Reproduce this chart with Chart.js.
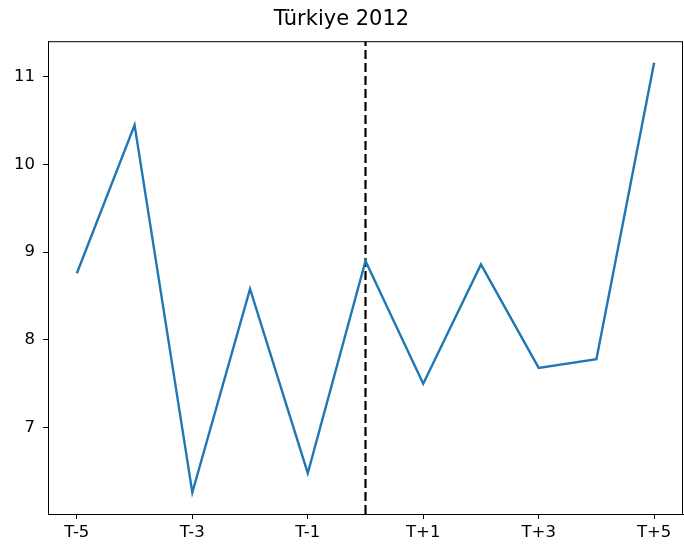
<!DOCTYPE html>
<html lang="en">
<head>
    <meta charset="UTF-8">
    <title>Türkiye 2012</title>
    <script src="https://cdn.jsdelivr.net/npm/chart.js"></script>
    <style>
        html, body { margin: 0; padding: 0; background: #fff; }
        #wrap { width: 684px; height: 544px; }
    </style>
</head>
<body>
    <div id="wrap"><canvas id="myChart" width="684" height="544"></canvas></div>
    <script>
        // data
        var periods = ['T-5', 'T-4', 'T-3', 'T-2', 'T-1', 'T0', 'T+1', 'T+2', 'T+3', 'T+4', 'T+5'];
        var values = [8.76, 10.45, 6.26, 8.58, 6.48, 8.90, 7.50, 8.86, 7.68, 7.78, 11.16];
        var xTickLabels = ['T-5', 'T-3', 'T-1', 'T+1', 'T+3', 'T+5'];
        var yTicks = [7, 8, 9, 10, 11];
        var eventPeriod = 'T0';

        var yMin = 6.015, yMax = 11.405;
        var xMin = -0.5, xMax = periods.length - 0.5;

        var linePoints = values.map(function (v, i) { return { x: i, y: v }; });
        var eventX = periods.indexOf(eventPeriod);

        // frame around the plot area (top and right sides)
        var framePlugin = {
            id: 'frame',
            afterDraw: function (chart) {
                var a = chart.chartArea, c = chart.ctx;
                c.save();
                c.strokeStyle = '#000';
                c.lineWidth = 1;
                c.strokeRect(a.left + 0.5, a.top + 0.5, a.right - a.left - 1, a.bottom - a.top);
                c.restore();
            }
        };

        var ctx = document.getElementById('myChart').getContext('2d');
        var myChart = new Chart(ctx, {
            type: 'line',
            data: {
                datasets: [{
                    data: linePoints,
                    borderColor: '#1f77b4',
                    borderWidth: 2.4,
                    pointRadius: 0,
                    fill: false,
                    tension: 0
                }, {
                    data: [{ x: eventX, y: yMin }, { x: eventX, y: yMax }],
                    borderColor: '#000',
                    borderWidth: 2.2,
                    borderDash: [9, 4],
                    pointRadius: 0,
                    fill: false
                }]
            },
            options: {
                responsive: false,
                animation: false,
                layout: { padding: { left: 0, right: 1, top: 0, bottom: 0 } },
                plugins: {
                    legend: { display: false },
                    tooltip: { enabled: false },
                    title: {
                        display: true,
                        text: 'Türkiye 2012',
                        color: '#000',
                        font: { family: 'DejaVu Sans', size: 21, weight: 'normal' },
                        padding: { top: 7, bottom: 9 }
                    }
                },
                scales: {
                    x: {
                        type: 'linear',
                        min: xMin,
                        max: xMax,
                        afterBuildTicks: function (scale) {
                            scale.ticks = xTickLabels.map(function (l) { return { value: periods.indexOf(l) }; });
                        },
                        afterFit: function (scale) { scale.height = 30; },
                        ticks: {
                            color: '#000',
                            padding: 4,
                            maxRotation: 0,
                            autoSkip: false,
                            font: { family: 'DejaVu Sans', size: 16.5 },
                            callback: function (v) { return periods[v]; }
                        },
                        grid: { drawOnChartArea: false, drawTicks: true, tickLength: 5, color: '#000' },
                        border: { display: true, color: '#000' }
                    },
                    y: {
                        min: yMin,
                        max: yMax,
                        afterBuildTicks: function (scale) {
                            scale.ticks = yTicks.map(function (v) { return { value: v }; });
                        },
                        afterFit: function (scale) { scale.width = 48; },
                        ticks: {
                            color: '#000',
                            padding: 8,
                            font: { family: 'DejaVu Sans', size: 16.5 },
                            callback: function (v) { return v; }
                        },
                        grid: { drawOnChartArea: false, drawTicks: true, tickLength: 5, color: '#000' },
                        border: { display: true, color: '#000' }
                    }
                }
            },
            plugins: [framePlugin]
        });
    </script>
</body>
</html>
